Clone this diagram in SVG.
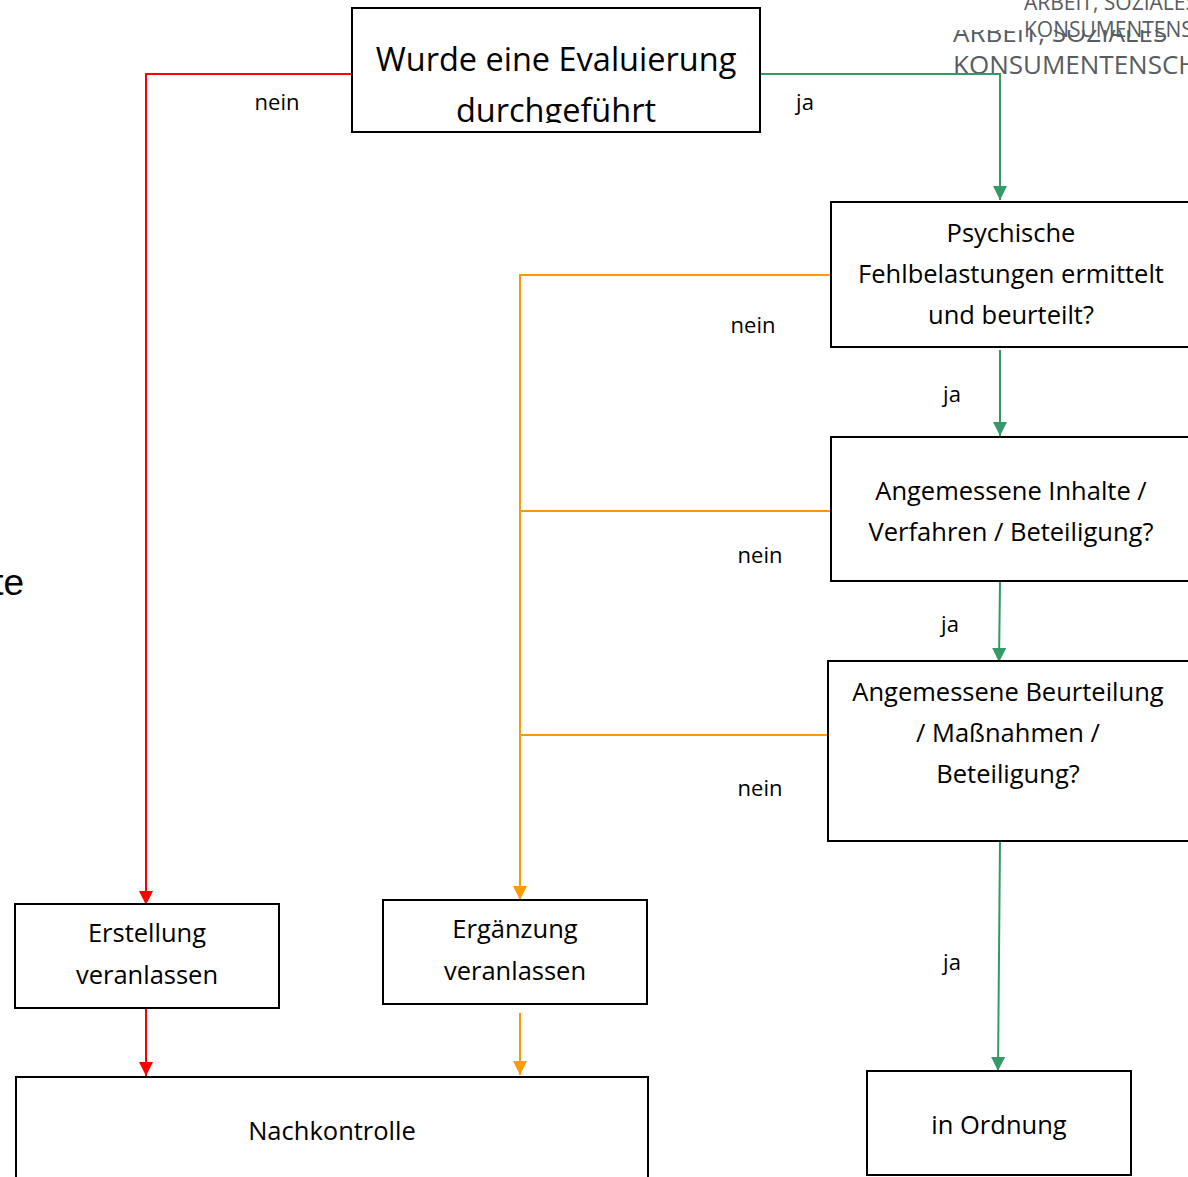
<svg xmlns="http://www.w3.org/2000/svg" width="1188" height="1177" viewBox="0 0 1188 1177">
<defs>
<style>
.box{fill:#fff;stroke:#000;stroke-width:2}
.t{font-family:"Open Sans","Noto Sans","Liberation Sans",sans-serif;font-size:25.5px;fill:#000;text-anchor:middle}
.title{font-family:"Open Sans","Noto Sans","Liberation Sans",sans-serif;font-size:32.5px;fill:#000;text-anchor:middle}
.lbl{font-family:"Open Sans","Noto Sans","Liberation Sans",sans-serif;font-size:22px;fill:#000;text-anchor:middle}
.hdrL{font-family:"Open Sans","Noto Sans","Liberation Sans",sans-serif;font-size:26px;fill:#575d62}
.hdrS{font-family:"Open Sans","Noto Sans","Liberation Sans",sans-serif;font-size:21px;fill:#575d62}
.red{stroke:#ff0000;stroke-width:2;fill:none}
.grn{stroke:#339966;stroke-width:2;fill:none}
.org{stroke:#ff9900;stroke-width:2;fill:none}
</style>
<marker id="aG" markerWidth="14" markerHeight="14" refX="14" refY="7" orient="auto" markerUnits="userSpaceOnUse" viewBox="0 0 14 14"><path d="M0,0 L14,7 L0,14 Z" fill="#339966"/></marker>
<marker id="aO" markerWidth="14" markerHeight="14" refX="14" refY="7" orient="auto" markerUnits="userSpaceOnUse" viewBox="0 0 14 14"><path d="M0,0 L14,7 L0,14 Z" fill="#ff9900"/></marker>
<marker id="aRd" markerWidth="14" markerHeight="14" refX="14" refY="7" orient="auto" markerUnits="userSpaceOnUse" viewBox="0 0 14 14"><path d="M0,0 L14,7 L0,14 Z" fill="#ff0000"/></marker>
<clipPath id="topclip"><rect x="353" y="9" width="406" height="114"/></clipPath>
</defs>

<g id="header">
<text class="hdrL" x="953" y="42">ARBEIT, SOZIALES</text>
<text class="hdrL" x="953" y="74">KONSUMENTENSCHUTZ</text>
<rect x="940" y="0" width="248" height="30" fill="#fff"/>
<text class="hdrS" x="1024" y="10">ARBEIT, SOZIALES</text>
<text class="hdrS" x="1024" y="37">KONSUMENTENSCHUTZ</text>
</g>

<g id="side-text">
<text x="24" y="595" font-family="Liberation Sans, Arial, sans-serif" font-size="37" text-anchor="end" fill="#000">te</text>
</g>

<g id="connectors">
<polyline class="red" points="352,74 146,74 146,905" marker-end="url(#aRd)"/>
<polyline class="grn" points="760,74 1000,74 1000,200" marker-end="url(#aG)"/>
<line class="grn" x1="1000" y1="350" x2="1000" y2="436" marker-end="url(#aG)"/>
<line class="grn" x1="1000" y1="582" x2="999" y2="662" marker-end="url(#aG)"/>
<line class="grn" x1="1000" y1="841" x2="998" y2="1071" marker-end="url(#aG)"/>
<polyline class="org" points="831,275 520,275 520,900" marker-end="url(#aO)"/>
<line class="org" x1="831" y1="511" x2="520" y2="511"/>
<line class="org" x1="828" y1="735" x2="520" y2="735"/>
<line class="red" x1="146" y1="1008" x2="146" y2="1076" marker-end="url(#aRd)"/>
<line class="org" x1="520" y1="1013" x2="520" y2="1075" marker-end="url(#aO)"/>
<text class="lbl" x="277" y="110">nein</text>
<text class="lbl" x="805" y="110">ja</text>
<text class="lbl" x="753" y="333">nein</text>
<text class="lbl" x="952" y="402">ja</text>
<text class="lbl" x="760" y="563">nein</text>
<text class="lbl" x="950" y="632">ja</text>
<text class="lbl" x="760" y="796">nein</text>
<text class="lbl" x="952" y="970">ja</text>
</g>

<g id="n-evaluierung">
<rect class="box" x="352" y="8" width="408" height="124"/>
<g clip-path="url(#topclip)">
<text class="title" x="556" y="71">Wurde eine Evaluierung</text>
<text class="title" x="556" y="122">durchgeführt</text>
</g>
</g>

<g id="n-psychische">
<rect class="box" x="831" y="202" width="400" height="145"/>
<text class="t" x="1011" y="242">Psychische</text>
<text class="t" x="1011" y="283">Fehlbelastungen ermittelt</text>
<text class="t" x="1011" y="324">und beurteilt?</text>
</g>

<g id="n-inhalte">
<rect class="box" x="831" y="437" width="400" height="144"/>
<text class="t" x="1011" y="500">Angemessene Inhalte /</text>
<text class="t" x="1011" y="541">Verfahren / Beteiligung?</text>
</g>

<g id="n-beurteilung">
<rect class="box" x="828" y="661" width="400" height="180"/>
<text class="t" x="1008" y="701">Angemessene Beurteilung</text>
<text class="t" x="1008" y="742">/ Maßnahmen /</text>
<text class="t" x="1008" y="783">Beteiligung?</text>
</g>

<g id="n-erstellung">
<rect class="box" x="15" y="904" width="264" height="104"/>
<text class="t" x="147" y="942">Erstellung</text>
<text class="t" x="147" y="984">veranlassen</text>
</g>

<g id="n-ergaenzung">
<rect class="box" x="383" y="900" width="264" height="104"/>
<text class="t" x="515" y="938">Ergänzung</text>
<text class="t" x="515" y="980">veranlassen</text>
</g>

<g id="n-nachkontrolle">
<rect class="box" x="16" y="1077" width="632" height="120"/>
<text class="t" x="332" y="1140">Nachkontrolle</text>
</g>

<g id="n-ordnung">
<rect class="box" x="867" y="1071" width="264" height="104"/>
<text class="t" x="999" y="1134">in Ordnung</text>
</g>
</svg>
